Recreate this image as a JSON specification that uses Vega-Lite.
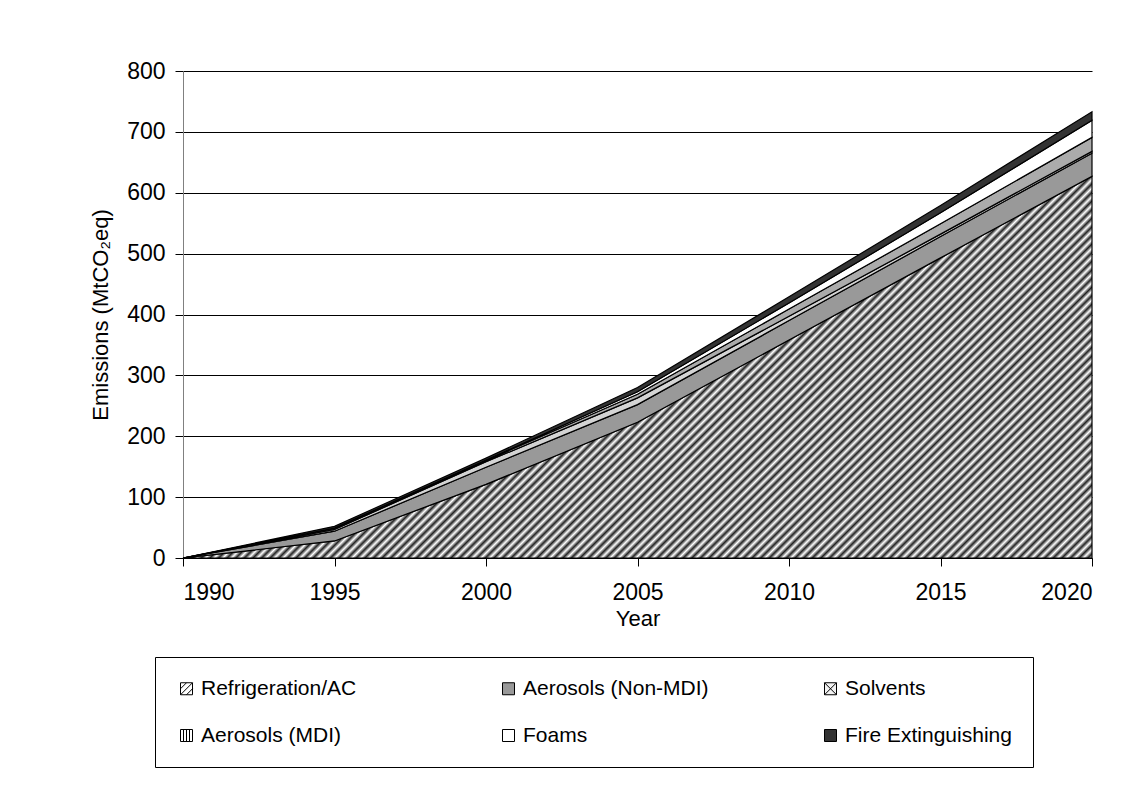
{
"$schema": "https://vega.github.io/schema/vega-lite/v6.json",
"width": 909, "height": 487,
"autosize": {"type": "none"},
"padding": {"left": 183, "top": 71, "right": 46, "bottom": 227},
"background": "white",
"config": {
  "font": "Liberation Sans",
  "view": {"stroke": null},
  "axis": {"labelFont": "Liberation Sans", "titleFont": "Liberation Sans", "labelColor": "black", "titleColor": "black", "labelFontSize": 23, "titleFontSize": 22, "titleFontWeight": "normal", "tickColor": "black", "tickSize": 8, "tickWidth": 1},
  "legend": {"orient": "none", "direction": "horizontal", "columns": 3, "gridAlign": "all", "symbolSize": 144, "symbolStrokeWidth": 1, "symbolOpacity": 1,
             "labelFont": "Liberation Sans", "labelFontSize": 21, "labelColor": "black", "labelOffset": 4, "labelLimit": 400,
             "strokeColor": "black", "padding": 21, "rowPadding": 25, "columnPadding": 111}
},
"data": {"values": [
  {"year": 1990, "source": "Refrigeration/AC", "order": 1, "value": 0},
  {"year": 1990, "source": "Aerosols (Non-MDI)", "order": 2, "value": 0},
  {"year": 1990, "source": "Solvents", "order": 3, "value": 0},
  {"year": 1990, "source": "Aerosols (MDI)", "order": 4, "value": 0},
  {"year": 1990, "source": "Foams", "order": 5, "value": 0},
  {"year": 1990, "source": "Fire Extinguishing", "order": 6, "value": 0},
  {"year": 1995, "source": "Refrigeration/AC", "order": 1, "value": 28},
  {"year": 1995, "source": "Aerosols (Non-MDI)", "order": 2, "value": 16},
  {"year": 1995, "source": "Solvents", "order": 3, "value": 3},
  {"year": 1995, "source": "Aerosols (MDI)", "order": 4, "value": 1},
  {"year": 1995, "source": "Foams", "order": 5, "value": 1},
  {"year": 1995, "source": "Fire Extinguishing", "order": 6, "value": 3},
  {"year": 2000, "source": "Refrigeration/AC", "order": 1, "value": 121},
  {"year": 2000, "source": "Aerosols (Non-MDI)", "order": 2, "value": 28},
  {"year": 2000, "source": "Solvents", "order": 3, "value": 9},
  {"year": 2000, "source": "Aerosols (MDI)", "order": 4, "value": 2},
  {"year": 2000, "source": "Foams", "order": 5, "value": 1},
  {"year": 2000, "source": "Fire Extinguishing", "order": 6, "value": 3},
  {"year": 2005, "source": "Refrigeration/AC", "order": 1, "value": 223},
  {"year": 2005, "source": "Aerosols (Non-MDI)", "order": 2, "value": 29},
  {"year": 2005, "source": "Solvents", "order": 3, "value": 11},
  {"year": 2005, "source": "Aerosols (MDI)", "order": 4, "value": 6},
  {"year": 2005, "source": "Foams", "order": 5, "value": 4},
  {"year": 2005, "source": "Fire Extinguishing", "order": 6, "value": 7},
  {"year": 2010, "source": "Refrigeration/AC", "order": 1, "value": 358},
  {"year": 2010, "source": "Aerosols (Non-MDI)", "order": 2, "value": 32},
  {"year": 2010, "source": "Solvents", "order": 3, "value": 7},
  {"year": 2010, "source": "Aerosols (MDI)", "order": 4, "value": 12},
  {"year": 2010, "source": "Foams", "order": 5, "value": 10},
  {"year": 2010, "source": "Fire Extinguishing", "order": 6, "value": 10},
  {"year": 2015, "source": "Refrigeration/AC", "order": 1, "value": 493},
  {"year": 2015, "source": "Aerosols (Non-MDI)", "order": 2, "value": 35},
  {"year": 2015, "source": "Solvents", "order": 3, "value": 4},
  {"year": 2015, "source": "Aerosols (MDI)", "order": 4, "value": 17},
  {"year": 2015, "source": "Foams", "order": 5, "value": 18},
  {"year": 2015, "source": "Fire Extinguishing", "order": 6, "value": 12},
  {"year": 2020, "source": "Refrigeration/AC", "order": 1, "value": 627},
  {"year": 2020, "source": "Aerosols (Non-MDI)", "order": 2, "value": 38},
  {"year": 2020, "source": "Solvents", "order": 3, "value": 3},
  {"year": 2020, "source": "Aerosols (MDI)", "order": 4, "value": 23},
  {"year": 2020, "source": "Foams", "order": 5, "value": 28},
  {"year": 2020, "source": "Fire Extinguishing", "order": 6, "value": 14}
]},
"transform": [
  {"stack": "value", "groupby": ["year"], "sort": [{"field": "order", "order": "ascending"}], "as": ["v0", "v1"]}
],
"encoding": {
  "x": {"field": "year", "type": "quantitative", "scale": {"domain": [1990, 2020], "nice": false, "zero": false},
        "axis": {"values": [1990, 1995, 2000, 2005, 2010, 2015, 2020], "format": "d", "grid": false, "domainColor": "black", "labelPadding": 15, "title": "Year", "titlePadding": 4}},
  "y": {"field": "v1", "type": "quantitative", "scale": {"domain": [0, 800], "nice": false},
        "axis": {"values": [0, 100, 200, 300, 400, 500, 600, 700, 800], "grid": true, "gridColor": "black", "gridWidth": 1, "domainColor": "#808080", "labelPadding": 10, "title": "Emissions (MtCO₂eq)", "titlePadding": 14}}
},
"layer": [
  {"transform": [{"filter": "datum.source === 'Refrigeration/AC'"}],
   "mark": {"type": "area", "stroke": "black", "strokeWidth": 1.2,
     "fill": {"gradient": "linear", "x1": 0, "y1": 0, "x2": 1.2071, "y2": 0.5069, "stops": [
{"offset":0,"color":"#fff"},{"offset":0.0033,"color":"#222"},{"offset":0.0067,"color":"#fff"},
{"offset":0.01,"color":"#222"},{"offset":0.0133,"color":"#fff"},{"offset":0.0167,"color":"#222"},
{"offset":0.02,"color":"#fff"},{"offset":0.0233,"color":"#222"},{"offset":0.0267,"color":"#fff"},
{"offset":0.03,"color":"#222"},{"offset":0.0333,"color":"#fff"},{"offset":0.0367,"color":"#222"},
{"offset":0.04,"color":"#fff"},{"offset":0.0433,"color":"#222"},{"offset":0.0467,"color":"#fff"},
{"offset":0.05,"color":"#222"},{"offset":0.0533,"color":"#fff"},{"offset":0.0567,"color":"#222"},
{"offset":0.06,"color":"#fff"},{"offset":0.0633,"color":"#222"},{"offset":0.0667,"color":"#fff"},
{"offset":0.07,"color":"#222"},{"offset":0.0733,"color":"#fff"},{"offset":0.0767,"color":"#222"},
{"offset":0.08,"color":"#fff"},{"offset":0.0833,"color":"#222"},{"offset":0.0867,"color":"#fff"},
{"offset":0.09,"color":"#222"},{"offset":0.0933,"color":"#fff"},{"offset":0.0967,"color":"#222"},
{"offset":0.10,"color":"#fff"},{"offset":0.1033,"color":"#222"},{"offset":0.1067,"color":"#fff"},
{"offset":0.11,"color":"#222"},{"offset":0.1133,"color":"#fff"},{"offset":0.1167,"color":"#222"},
{"offset":0.12,"color":"#fff"},{"offset":0.1233,"color":"#222"},{"offset":0.1267,"color":"#fff"},
{"offset":0.13,"color":"#222"},{"offset":0.1333,"color":"#fff"},{"offset":0.1367,"color":"#222"},
{"offset":0.14,"color":"#fff"},{"offset":0.1433,"color":"#222"},{"offset":0.1467,"color":"#fff"},
{"offset":0.15,"color":"#222"},{"offset":0.1533,"color":"#fff"},{"offset":0.1567,"color":"#222"},
{"offset":0.16,"color":"#fff"},{"offset":0.1633,"color":"#222"},{"offset":0.1667,"color":"#fff"},
{"offset":0.17,"color":"#222"},{"offset":0.1733,"color":"#fff"},{"offset":0.1767,"color":"#222"},
{"offset":0.18,"color":"#fff"},{"offset":0.1833,"color":"#222"},{"offset":0.1867,"color":"#fff"},
{"offset":0.19,"color":"#222"},{"offset":0.1933,"color":"#fff"},{"offset":0.1967,"color":"#222"},
{"offset":0.20,"color":"#fff"},{"offset":0.2033,"color":"#222"},{"offset":0.2067,"color":"#fff"},
{"offset":0.21,"color":"#222"},{"offset":0.2133,"color":"#fff"},{"offset":0.2167,"color":"#222"},
{"offset":0.22,"color":"#fff"},{"offset":0.2233,"color":"#222"},{"offset":0.2267,"color":"#fff"},
{"offset":0.23,"color":"#222"},{"offset":0.2333,"color":"#fff"},{"offset":0.2367,"color":"#222"},
{"offset":0.24,"color":"#fff"},{"offset":0.2433,"color":"#222"},{"offset":0.2467,"color":"#fff"},
{"offset":0.25,"color":"#222"},{"offset":0.2533,"color":"#fff"},{"offset":0.2567,"color":"#222"},
{"offset":0.26,"color":"#fff"},{"offset":0.2633,"color":"#222"},{"offset":0.2667,"color":"#fff"},
{"offset":0.27,"color":"#222"},{"offset":0.2733,"color":"#fff"},{"offset":0.2767,"color":"#222"},
{"offset":0.28,"color":"#fff"},{"offset":0.2833,"color":"#222"},{"offset":0.2867,"color":"#fff"},
{"offset":0.29,"color":"#222"},{"offset":0.2933,"color":"#fff"},{"offset":0.2967,"color":"#222"},
{"offset":0.30,"color":"#fff"},{"offset":0.3033,"color":"#222"},{"offset":0.3067,"color":"#fff"},
{"offset":0.31,"color":"#222"},{"offset":0.3133,"color":"#fff"},{"offset":0.3167,"color":"#222"},
{"offset":0.32,"color":"#fff"},{"offset":0.3233,"color":"#222"},{"offset":0.3267,"color":"#fff"},
{"offset":0.33,"color":"#222"},{"offset":0.3333,"color":"#fff"},{"offset":0.3367,"color":"#222"},
{"offset":0.34,"color":"#fff"},{"offset":0.3433,"color":"#222"},{"offset":0.3467,"color":"#fff"},
{"offset":0.35,"color":"#222"},{"offset":0.3533,"color":"#fff"},{"offset":0.3567,"color":"#222"},
{"offset":0.36,"color":"#fff"},{"offset":0.3633,"color":"#222"},{"offset":0.3667,"color":"#fff"},
{"offset":0.37,"color":"#222"},{"offset":0.3733,"color":"#fff"},{"offset":0.3767,"color":"#222"},
{"offset":0.38,"color":"#fff"},{"offset":0.3833,"color":"#222"},{"offset":0.3867,"color":"#fff"},
{"offset":0.39,"color":"#222"},{"offset":0.3933,"color":"#fff"},{"offset":0.3967,"color":"#222"},
{"offset":0.40,"color":"#fff"},{"offset":0.4033,"color":"#222"},{"offset":0.4067,"color":"#fff"},
{"offset":0.41,"color":"#222"},{"offset":0.4133,"color":"#fff"},{"offset":0.4167,"color":"#222"},
{"offset":0.42,"color":"#fff"},{"offset":0.4233,"color":"#222"},{"offset":0.4267,"color":"#fff"},
{"offset":0.43,"color":"#222"},{"offset":0.4333,"color":"#fff"},{"offset":0.4367,"color":"#222"},
{"offset":0.44,"color":"#fff"},{"offset":0.4433,"color":"#222"},{"offset":0.4467,"color":"#fff"},
{"offset":0.45,"color":"#222"},{"offset":0.4533,"color":"#fff"},{"offset":0.4567,"color":"#222"},
{"offset":0.46,"color":"#fff"},{"offset":0.4633,"color":"#222"},{"offset":0.4667,"color":"#fff"},
{"offset":0.47,"color":"#222"},{"offset":0.4733,"color":"#fff"},{"offset":0.4767,"color":"#222"},
{"offset":0.48,"color":"#fff"},{"offset":0.4833,"color":"#222"},{"offset":0.4867,"color":"#fff"},
{"offset":0.49,"color":"#222"},{"offset":0.4933,"color":"#fff"},{"offset":0.4967,"color":"#222"},
{"offset":0.50,"color":"#fff"},{"offset":0.5033,"color":"#222"},{"offset":0.5067,"color":"#fff"},
{"offset":0.51,"color":"#222"},{"offset":0.5133,"color":"#fff"},{"offset":0.5167,"color":"#222"},
{"offset":0.52,"color":"#fff"},{"offset":0.5233,"color":"#222"},{"offset":0.5267,"color":"#fff"},
{"offset":0.53,"color":"#222"},{"offset":0.5333,"color":"#fff"},{"offset":0.5367,"color":"#222"},
{"offset":0.54,"color":"#fff"},{"offset":0.5433,"color":"#222"},{"offset":0.5467,"color":"#fff"},
{"offset":0.55,"color":"#222"},{"offset":0.5533,"color":"#fff"},{"offset":0.5567,"color":"#222"},
{"offset":0.56,"color":"#fff"},{"offset":0.5633,"color":"#222"},{"offset":0.5667,"color":"#fff"},
{"offset":0.57,"color":"#222"},{"offset":0.5733,"color":"#fff"},{"offset":0.5767,"color":"#222"},
{"offset":0.58,"color":"#fff"},{"offset":0.5833,"color":"#222"},{"offset":0.5867,"color":"#fff"},
{"offset":0.59,"color":"#222"},{"offset":0.5933,"color":"#fff"},{"offset":0.5967,"color":"#222"},
{"offset":0.60,"color":"#fff"},{"offset":0.6033,"color":"#222"},{"offset":0.6067,"color":"#fff"},
{"offset":0.61,"color":"#222"},{"offset":0.6133,"color":"#fff"},{"offset":0.6167,"color":"#222"},
{"offset":0.62,"color":"#fff"},{"offset":0.6233,"color":"#222"},{"offset":0.6267,"color":"#fff"},
{"offset":0.63,"color":"#222"},{"offset":0.6333,"color":"#fff"},{"offset":0.6367,"color":"#222"},
{"offset":0.64,"color":"#fff"},{"offset":0.6433,"color":"#222"},{"offset":0.6467,"color":"#fff"},
{"offset":0.65,"color":"#222"},{"offset":0.6533,"color":"#fff"},{"offset":0.6567,"color":"#222"},
{"offset":0.66,"color":"#fff"},{"offset":0.6633,"color":"#222"},{"offset":0.6667,"color":"#fff"},
{"offset":0.67,"color":"#222"},{"offset":0.6733,"color":"#fff"},{"offset":0.6767,"color":"#222"},
{"offset":0.68,"color":"#fff"},{"offset":0.6833,"color":"#222"},{"offset":0.6867,"color":"#fff"},
{"offset":0.69,"color":"#222"},{"offset":0.6933,"color":"#fff"},{"offset":0.6967,"color":"#222"},
{"offset":0.70,"color":"#fff"},{"offset":0.7033,"color":"#222"},{"offset":0.7067,"color":"#fff"},
{"offset":0.71,"color":"#222"},{"offset":0.7133,"color":"#fff"},{"offset":0.7167,"color":"#222"},
{"offset":0.72,"color":"#fff"},{"offset":0.7233,"color":"#222"},{"offset":0.7267,"color":"#fff"},
{"offset":0.73,"color":"#222"},{"offset":0.7333,"color":"#fff"},{"offset":0.7367,"color":"#222"},
{"offset":0.74,"color":"#fff"},{"offset":0.7433,"color":"#222"},{"offset":0.7467,"color":"#fff"},
{"offset":0.75,"color":"#222"},{"offset":0.7533,"color":"#fff"},{"offset":0.7567,"color":"#222"},
{"offset":0.76,"color":"#fff"},{"offset":0.7633,"color":"#222"},{"offset":0.7667,"color":"#fff"},
{"offset":0.77,"color":"#222"},{"offset":0.7733,"color":"#fff"},{"offset":0.7767,"color":"#222"},
{"offset":0.78,"color":"#fff"},{"offset":0.7833,"color":"#222"},{"offset":0.7867,"color":"#fff"},
{"offset":0.79,"color":"#222"},{"offset":0.7933,"color":"#fff"},{"offset":0.7967,"color":"#222"},
{"offset":0.80,"color":"#fff"},{"offset":0.8033,"color":"#222"},{"offset":0.8067,"color":"#fff"},
{"offset":0.81,"color":"#222"},{"offset":0.8133,"color":"#fff"},{"offset":0.8167,"color":"#222"},
{"offset":0.82,"color":"#fff"},{"offset":0.8233,"color":"#222"},{"offset":0.8267,"color":"#fff"},
{"offset":0.83,"color":"#222"},{"offset":0.8333,"color":"#fff"},{"offset":0.8367,"color":"#222"},
{"offset":0.84,"color":"#fff"},{"offset":0.8433,"color":"#222"},{"offset":0.8467,"color":"#fff"},
{"offset":0.85,"color":"#222"},{"offset":0.8533,"color":"#fff"},{"offset":0.8567,"color":"#222"},
{"offset":0.86,"color":"#fff"},{"offset":0.8633,"color":"#222"},{"offset":0.8667,"color":"#fff"},
{"offset":0.87,"color":"#222"},{"offset":0.8733,"color":"#fff"},{"offset":0.8767,"color":"#222"},
{"offset":0.88,"color":"#fff"},{"offset":0.8833,"color":"#222"},{"offset":0.8867,"color":"#fff"},
{"offset":0.89,"color":"#222"},{"offset":0.8933,"color":"#fff"},{"offset":0.8967,"color":"#222"},
{"offset":0.90,"color":"#fff"},{"offset":0.9033,"color":"#222"},{"offset":0.9067,"color":"#fff"},
{"offset":0.91,"color":"#222"},{"offset":0.9133,"color":"#fff"},{"offset":0.9167,"color":"#222"},
{"offset":0.92,"color":"#fff"},{"offset":0.9233,"color":"#222"},{"offset":0.9267,"color":"#fff"},
{"offset":0.93,"color":"#222"},{"offset":0.9333,"color":"#fff"},{"offset":0.9367,"color":"#222"},
{"offset":0.94,"color":"#fff"},{"offset":0.9433,"color":"#222"},{"offset":0.9467,"color":"#fff"},
{"offset":0.95,"color":"#222"},{"offset":0.9533,"color":"#fff"},{"offset":0.9567,"color":"#222"},
{"offset":0.96,"color":"#fff"},{"offset":0.9633,"color":"#222"},{"offset":0.9667,"color":"#fff"},
{"offset":0.97,"color":"#222"},{"offset":0.9733,"color":"#fff"},{"offset":0.9767,"color":"#222"},
{"offset":0.98,"color":"#fff"},{"offset":0.9833,"color":"#222"},{"offset":0.9867,"color":"#fff"},
{"offset":0.99,"color":"#222"},{"offset":0.9933,"color":"#fff"},{"offset":0.9967,"color":"#222"},
{"offset":1,"color":"#fff"}
     ]}},
   "encoding": {"y2": {"field": "v0"}}},
  {"transform": [{"filter": "datum.source === 'Aerosols (Non-MDI)'"}],
   "mark": {"type": "area", "fill": "#999999", "stroke": "black", "strokeWidth": 1.2},
   "encoding": {"y2": {"field": "v0"}}},
  {"transform": [{"filter": "datum.source === 'Solvents'"}],
   "mark": {"type": "area", "fill": "#d4d4d4", "stroke": "black", "strokeWidth": 1.2},
   "encoding": {"y2": {"field": "v0"}}},
  {"transform": [{"filter": "datum.source === 'Aerosols (MDI)'"}],
   "mark": {"type": "area", "fill": "#ababab", "stroke": "black", "strokeWidth": 1.2},
   "encoding": {"y2": {"field": "v0"}}},
  {"transform": [{"filter": "datum.source === 'Foams'"}],
   "mark": {"type": "area", "fill": "#ffffff", "stroke": "black", "strokeWidth": 1.2},
   "encoding": {"y2": {"field": "v0"}}},
  {"transform": [{"filter": "datum.source === 'Fire Extinguishing'"}],
   "mark": {"type": "area", "fill": "#333333", "stroke": "black", "strokeWidth": 1.2},
   "encoding": {"y2": {"field": "v0"}}},
  {"mark": {"type": "point", "filled": true, "strokeWidth": 1, "opacity": 0},
   "encoding": {
     "fill": {"field": "source", "type": "nominal",
       "scale": {"domain": ["Refrigeration/AC", "Aerosols (Non-MDI)", "Solvents", "Aerosols (MDI)", "Foams", "Fire Extinguishing"],
                 "range": ["#ffffff", "#999999", "#f2f2f2", "#ffffff", "#ffffff", "#333333"]},
       "legend": {"title": null, "legendX": -28, "legendY": 586}},
     "stroke": {"field": "source", "type": "nominal",
       "scale": {"domain": ["Refrigeration/AC", "Aerosols (Non-MDI)", "Solvents", "Aerosols (MDI)", "Foams", "Fire Extinguishing"],
                 "range": ["#000000", "#000000", "#000000", "#000000", "#000000", "#000000"]},
       "legend": {"title": null, "legendX": -28, "legendY": 586}},
     "shape": {"field": "source", "type": "nominal",
       "scale": {"domain": ["Refrigeration/AC", "Aerosols (Non-MDI)", "Solvents", "Aerosols (MDI)", "Foams", "Fire Extinguishing"],
                 "range": [
                   "M-1,-1H1V1H-1Z M-1,0L0,-1 M-1,1L1,-1 M0,1L1,0",
                   "M-1,-1H1V1H-1Z",
                   "M-1,-1H1V1H-1Z M-1,-1L1,1 M-1,1L1,-1",
                   "M-1,-1H1V1H-1Z M-0.5,-1V1 M0,-1V1 M0.5,-1V1",
                   "M-1,-1H1V1H-1Z",
                   "M-1,-1H1V1H-1Z"
                 ]},
       "legend": {"title": null, "legendX": -28, "legendY": 586}}
   }}
]
}
